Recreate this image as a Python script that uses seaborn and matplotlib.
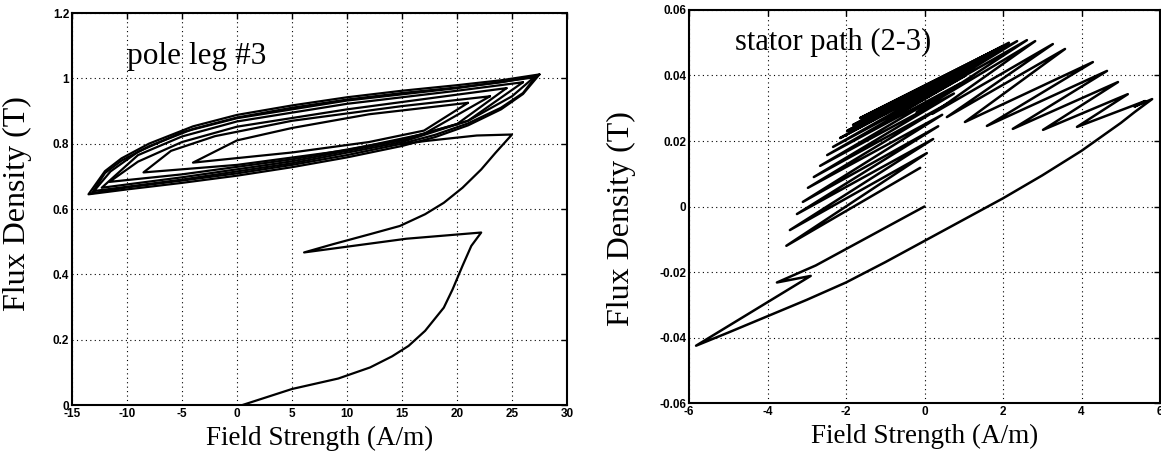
import numpy as np
import pandas as pd
import seaborn as sns
import matplotlib
matplotlib.use('Agg')
from matplotlib import pyplot as plt

# ---- left panel: pole leg #3 ----
pole_xticks = [-15, -10, -5, 0, 5, 10, 15, 20, 25, 30]
pole_yticks = [0, 0.2, 0.4, 0.6, 0.8, 1.0, 1.2]
pole_ylabels = ['0', '0.2', '0.4', '0.6', '0.8', '1', '1.2']

# initial magnetisation and first two reversals
pole_init_x = [0.5, 5.0, 9.2, 12.1, 14.1, 15.6, 17.1, 18.8, 19.6, 20.5, 21.3, 22.2,
               15.4, 6.1, 8.7, 12.1, 14.8, 17.1, 18.8, 20.5, 22.2, 23.5, 25.0,
               21.8, 17.1, 14.9]
pole_init_y = [0.0, 0.049, 0.081, 0.115, 0.149, 0.181, 0.227, 0.298, 0.354, 0.426, 0.487, 0.528,
               0.509, 0.467, 0.492, 0.523, 0.548, 0.584, 0.619, 0.665, 0.721, 0.772, 0.828,
               0.825, 0.808, 0.798]

# loops, innermost first (upper branch right->left, lower branch left->right)
loop1_x = [21.0, 12.0, 5.0, 0.0, -4.0, 5.0, 12.0, 17.0, 21.0]
loop1_y = [0.925, 0.890, 0.848, 0.810, 0.742, 0.773, 0.805, 0.840, 0.925]
loop2_x = [23.0, 15.0, 5.0, -2.0, -6.0, -8.5, 0.0, 10.0, 17.0, 23.0]
loop2_y = [0.945, 0.915, 0.870, 0.823, 0.778, 0.712, 0.735, 0.780, 0.830, 0.945]
loop3_x = [24.5, 20.0, 10.0, 0.0, -5.0, -9.0, -11.6, -5.0, 5.0, 15.0, 20.0, 24.5]
loop3_y = [0.970, 0.950, 0.905, 0.852, 0.805, 0.745, 0.683, 0.706, 0.752, 0.812, 0.860, 0.970]
loop4_x = [26.0, 20.0, 10.0, 0.0, -5.0, -9.0, -12.3, -5.0, 5.0, 15.0, 21.0, 26.0]
loop4_y = [0.988, 0.962, 0.922, 0.868, 0.822, 0.765, 0.665, 0.697, 0.746, 0.810, 0.870, 0.988]
loop5_x = [27.0, 20.0, 10.0, 0.0, -5.0, -9.0, -11.5, -13.0, -5.0, 5.0, 15.0, 21.0, 25.0, 27.0]
loop5_y = [1.003, 0.970, 0.932, 0.878, 0.835, 0.775, 0.715, 0.655, 0.690, 0.740, 0.805, 0.870, 0.945, 1.003]
loop6_x = [27.2, 24.0, 20.0, 15.0, 10.0, 5.0, 0.0, -4.0, -8.0, -10.5, -12.0, -13.2,
           -10.0, -5.0, 0.0, 5.0, 10.0, 15.0, 18.0, 21.0, 24.0, 26.0, 27.2]
loop6_y = [1.007, 0.988, 0.972, 0.955, 0.935, 0.910, 0.880, 0.845, 0.792, 0.748, 0.710, 0.648,
           0.666, 0.687, 0.709, 0.735, 0.765, 0.800, 0.827, 0.862, 0.910, 0.955, 1.007]
loop7_x = [27.5, 24.0, 20.0, 15.0, 10.0, 5.0, 0.0, -4.0, -8.0, -10.5, -12.0, -13.5,
           -10.0, -5.0, 0.0, 5.0, 10.0, 15.0, 18.0, 21.0, 24.0, 26.0, 27.5]
loop7_y = [1.012, 0.994, 0.979, 0.962, 0.942, 0.917, 0.888, 0.853, 0.800, 0.755, 0.716, 0.645,
           0.660, 0.680, 0.702, 0.728, 0.758, 0.793, 0.820, 0.856, 0.905, 0.952, 1.012]

# ---- right panel: stator path (2-3) ----
stator_xticks = [-6, -4, -2, 0, 2, 4, 6]
stator_yticks = [-0.06, -0.04, -0.02, 0, 0.02, 0.04, 0.06]
stator_ylabels = ['-0.06', '-0.04', '-0.02', '0', '0.02', '0.04', '0.06']

stator_init_x = [0.0, -2.77, -3.76, -2.90, -5.82, -5.0, -4.0, -3.0, -2.0, -1.0, 0.0,
                 1.0, 2.0, 3.0, 4.0, 5.0, 5.35, 5.80, 5.35, 5.62]
stator_init_y = [0.0, -0.0180, -0.0232, -0.0212, -0.0425, -0.0385, -0.0335, -0.0285, -0.0232, -0.0170, -0.0105,
                 -0.0040, 0.0025, 0.0095, 0.0170, 0.0255, 0.0288, 0.0328, 0.0305, 0.0322]

# minor loops: alternating left / right reversal tips
stator_zig_x = [3.885, 5.18, 3.02, 4.93, 2.25, 4.65, 1.59, 4.29, 1.03, 3.58, 0.57, 3.27,
                0.20, 2.82, -0.20, 2.61, -0.60, 2.36, -1.00, 2.15, -1.35, 2.00, -1.64, 1.85,
                -1.82, 1.65, -1.97, 1.45, -2.15, 1.25, -2.33, 1.05, -2.48, 0.90, -2.66, 0.75,
                -2.82, 0.60, -2.97, 0.45, -3.10, 0.35, -3.25, 0.22, -3.43, 0.06, -3.52, -0.11]
stator_zig_y = [0.0243, 0.0343, 0.0234, 0.0380, 0.0237, 0.0414, 0.0246, 0.0441, 0.0258, 0.0481, 0.0273, 0.0496,
                0.0283, 0.0505, 0.0288, 0.0508, 0.0288, 0.0505, 0.0285, 0.0500, 0.0278, 0.0490, 0.0270, 0.0480,
                0.0249, 0.0462, 0.0231, 0.0445, 0.0209, 0.0425, 0.0182, 0.0400, 0.0157, 0.0375, 0.0124, 0.0345,
                0.0090, 0.0315, 0.0057, 0.0280, 0.0014, 0.0245, -0.0023, 0.0206, -0.0072, 0.0163, -0.0120, 0.0118]


def to_frame(parts):
    rows = []
    for i, (xs, ys) in enumerate(parts):
        for j, (a, b) in enumerate(zip(xs, ys)):
            rows.append({'H': a, 'B': b, 'part': i, 'step': j})
    return pd.DataFrame(rows)


pole_df = to_frame([(pole_init_x, pole_init_y), (loop1_x, loop1_y), (loop2_x, loop2_y),
                    (loop3_x, loop3_y), (loop4_x, loop4_y), (loop5_x, loop5_y),
                    (loop6_x, loop6_y), (loop7_x, loop7_y)])
stator_df = to_frame([(stator_init_x + stator_zig_x, stator_init_y + stator_zig_y)])

sns.set_style('white', {'text.color': 'black', 'axes.labelcolor': 'black',
                        'xtick.color': 'black', 'ytick.color': 'black'})
plt.rcParams['font.family'] = ['Liberation Serif', 'DejaVu Serif']
plt.rcParams['axes.unicode_minus'] = False

fig = plt.figure(figsize=(11.61, 4.65), dpi=100)
ax1 = fig.add_axes([72 / 1161, 1 - 405 / 465, 495 / 1161, 392 / 465])
ax2 = fig.add_axes([689 / 1161, 1 - 403 / 465, 471 / 1161, 393 / 465])

sns.lineplot(data=pole_df, x='H', y='B', units='part', estimator=None, sort=False,
             color='black', linewidth=1.6, ax=ax1)
sns.lineplot(data=stator_df, x='H', y='B', units='part', estimator=None, sort=False,
             color='black', linewidth=1.8, ax=ax2)

panels = [
    (ax1, pole_xticks, pole_yticks, pole_ylabels, (-15, 30), (0, 1.2)),
    (ax2, stator_xticks, stator_yticks, stator_ylabels, (-6, 6), (-0.06, 0.06)),
]
for ax, xt, yt, yl, xlim, ylim in panels:
    ax.set_xlim(*xlim)
    ax.set_ylim(*ylim)
    ax.set_xticks(xt)
    ax.set_xticklabels([str(v) for v in xt])
    ax.set_yticks(yt)
    ax.set_yticklabels(yl)
    ax.grid(True, linestyle=(0, (1, 3)), color='black', linewidth=0.8)
    ax.tick_params(direction='in', top=True, right=True, length=4, width=1,
                   colors='black', pad=2)
    for lbl in ax.get_xticklabels() + ax.get_yticklabels():
        lbl.set_fontfamily('Liberation Sans')
        lbl.set_fontweight('bold')
        lbl.set_fontsize(8.5)
    for sp in ax.spines.values():
        sp.set_color('black')
        sp.set_linewidth(1.5)
    ax.set_xlabel('Field Strength (A/m)', fontsize=19.5)
    ax.set_ylabel('Flux Density (T)', fontsize=23)
    ax.xaxis.set_label_coords(0.5, -0.053)
    ax.xaxis.label.set_va('top')

ax1.yaxis.set_label_coords(-0.081, 0.513)
ax2.yaxis.set_label_coords(-0.113, 0.47)

ax1.text(-10.0, 1.045, 'pole leg #3', fontsize=22.5, va='baseline')
ax2.text(-4.83, 0.0478, 'stator path (2-3)', fontsize=22, va='baseline')

fig.savefig('out.png', dpi=100)
